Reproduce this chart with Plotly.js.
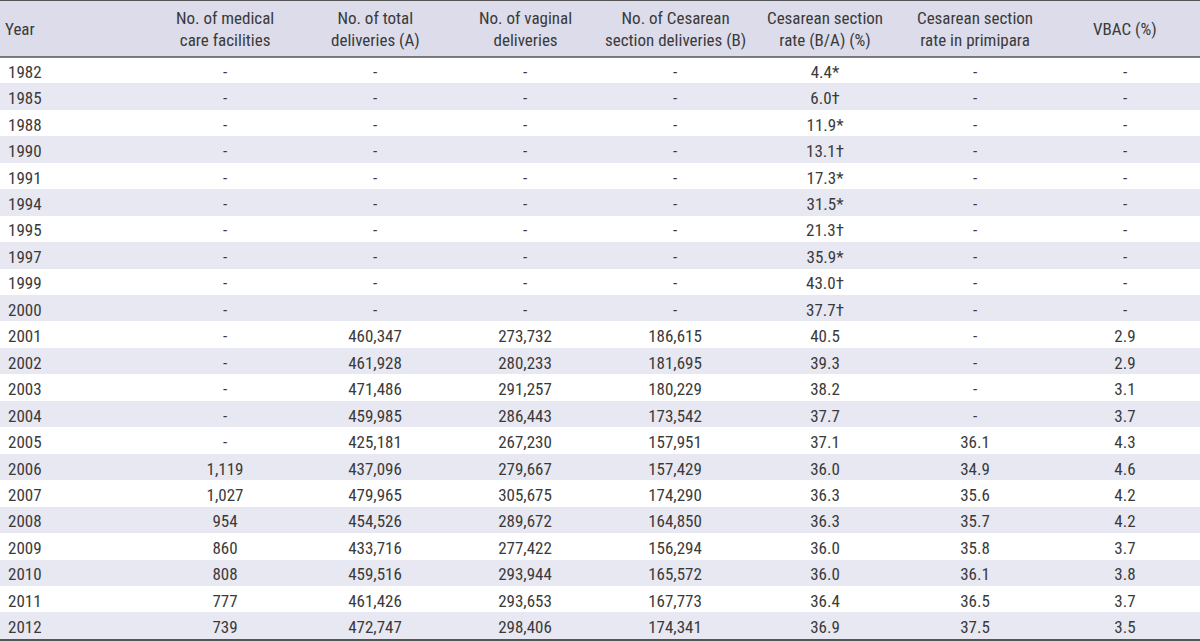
<!DOCTYPE html>
<html>
<head>
<meta charset="utf-8">
<script src="https://cdn.plot.ly/plotly-3.0.1.min.js"></script>
<style>html,body{margin:0;padding:0;background:#fff;}#chart{width:1200px;height:641px;}</style>
</head>
<body>
<div id="chart"></div>
<script>
var headers = ["Year", "No. of medical<br>care facilities", "No. of total<br>deliveries (A)", "No. of vaginal<br>deliveries", "No. of Cesarean<br>section deliveries (B)", "Cesarean section<br>rate (B/A) (%)", "Cesarean section<br>rate in primipara", "VBAC (%)"];
var years = [1982, 1985, 1988, 1990, 1991, 1994, 1995, 1997, 1999, 2000, 2001, 2002, 2003, 2004, 2005, 2006, 2007, 2008, 2009, 2010, 2011, 2012];
var facilities = [null, null, null, null, null, null, null, null, null, null, null, null, null, null, null, 1119, 1027, 954, 860, 808, 777, 739];
var totalDeliveries = [null, null, null, null, null, null, null, null, null, null, 460347, 461928, 471486, 459985, 425181, 437096, 479965, 454526, 433716, 459516, 461426, 472747];
var vaginalDeliveries = [null, null, null, null, null, null, null, null, null, null, 273732, 280233, 291257, 286443, 267230, 279667, 305675, 289672, 277422, 293944, 293653, 298406];
var cesareanDeliveries = [null, null, null, null, null, null, null, null, null, null, 186615, 181695, 180229, 173542, 157951, 157429, 174290, 164850, 156294, 165572, 167773, 174341];
var cesareanRate = [4.4, 6.0, 11.9, 13.1, 17.3, 31.5, 21.3, 35.9, 43.0, 37.7, 40.5, 39.3, 38.2, 37.7, 37.1, 36.0, 36.3, 36.3, 36.0, 36.0, 36.4, 36.9];
var rateNotes = ["*", "†", "*", "†", "*", "*", "†", "*", "†", "†", "", "", "", "", "", "", "", "", "", "", "", ""];
var primiparaRate = [null, null, null, null, null, null, null, null, null, null, null, null, null, null, 36.1, 34.9, 35.6, 35.7, 35.8, 36.1, 36.5, 37.5];
var vbac = [null, null, null, null, null, null, null, null, null, null, 2.9, 2.9, 3.1, 3.7, 4.3, 4.6, 4.2, 4.2, 3.7, 3.8, 3.7, 3.5];

function fmtInt(v) { return v == null ? "-" : v.toLocaleString("en-US"); }
function fmtDec(v) { return v == null ? "-" : v.toFixed(1); }

var rateText = cesareanRate.map(function (v, i) { return fmtDec(v) + rateNotes[i]; });

var cols = [
  years.map(String),
  facilities.map(fmtInt),
  totalDeliveries.map(fmtInt),
  vaginalDeliveries.map(fmtInt),
  cesareanDeliveries.map(fmtInt),
  rateText,
  primiparaRate.map(fmtDec),
  vbac.map(fmtDec)
];

var band = years.map(function (y, i) { return i % 2 === 1 ? "#e8e8f2" : "#ffffff"; });
var fills = headers.map(function () { return band; });

var FONT = "'Roboto Condensed', 'Liberation Sans Narrow', Roboto, Arial, sans-serif";
var TXT = "#3a3a3a";

var trace = {
  type: "table",
  domain: { x: [0, 1], y: [0, 1] },
  columnwidth: [150, 150, 150, 150, 150, 150, 150, 150],
  header: {
    values: headers.map(function () { return ""; }),
    fill: { color: "#dcdcea" },
    line: { width: 0, color: "rgba(0,0,0,0)" },
    font: { family: FONT, size: 17, color: TXT },
    height: 57
  },
  cells: {
    values: cols,
    align: ["left", "center", "center", "center", "center", "center", "center", "center"],
    fill: { color: fills },
    line: { width: 0, color: "rgba(0,0,0,0)" },
    font: { family: FONT, size: 17, color: TXT },
    height: 26.45
  }
};

// header labels drawn as annotations so that each line is centred and the block is vertically centred
var annotations = headers.map(function (h, i) {
  var left = i === 0;
  return {
    xref: "paper", yref: "paper",
    x: left ? 3 / 1200 : (i + 0.5) / headers.length,
    y: 1 - 28.5 / 641,
    xanchor: left ? "left" : "center", yanchor: "middle",
    align: left ? "left" : "center",
    showarrow: false,
    text: h,
    font: { family: FONT, size: 17, color: TXT }
  };
});

var layout = {
  width: 1200,
  height: 641,
  margin: { l: 0, r: 0, t: 0, b: 0, pad: 0 },
  paper_bgcolor: "#ffffff",
  annotations: annotations,
  shapes: [
    { type: "line", xref: "paper", yref: "paper", x0: 0, x1: 1, y0: 1, y1: 1, line: { color: "#555555", width: 2 } },
    { type: "line", xref: "paper", yref: "paper", x0: 0, x1: 1, y0: 1 - 57 / 641, y1: 1 - 57 / 641, line: { color: "#555555", width: 1.5 } },
    { type: "line", xref: "paper", yref: "paper", x0: 0, x1: 1, y0: 1 / 641, y1: 1 / 641, line: { color: "#555555", width: 2 } }
  ]
};

Plotly.newPlot("chart", [trace], layout, { displayModeBar: false, staticPlot: true });
</script>
</body>
</html>
